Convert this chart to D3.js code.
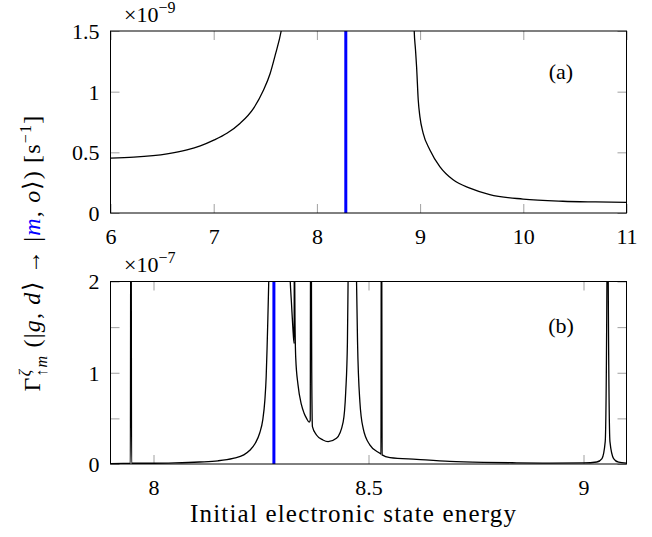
<!DOCTYPE html>
<html>
<head>
<meta charset="utf-8">
<script src="https://cdn.jsdelivr.net/npm/d3@7"></script>
<style>
  body { margin: 0; background: #fff; }
  svg { display: block; }
  text { font-family: "Liberation Serif", serif; fill: #000; }
</style>
</head>
<body>
<div id="chart"></div>
<script>
const SERIF = '"Liberation Serif", serif';

// panel (a) : deux branches de part et d'autre de la résonance (unités 1e-9 s^-1)
const aLeftX  = [6.0, 6.226, 6.548, 6.741, 6.870, 7.006, 7.128, 7.257, 7.386, 7.483, 7.547, 7.596, 7.654, 7.70];
const aLeftY  = [0.452, 0.460, 0.487, 0.520, 0.553, 0.602, 0.657, 0.740, 0.863, 1.013, 1.150, 1.301, 1.50, 1.75];
const aRightX = [8.935, 8.943, 8.955, 8.966, 8.982, 8.998, 9.030, 9.095, 9.191, 9.320, 9.482, 9.675, 9.997, 10.383, 10.70, 11.0];
const aRightY = [1.75, 1.50, 1.35, 1.205, 0.931, 0.794, 0.657, 0.520, 0.383, 0.274, 0.205, 0.152, 0.115, 0.097, 0.091, 0.087];

// panel (b) (unités 1e-7 s^-1) — les résonances étroites montent hors cadre
const bX = [7.90, 7.93, 7.9462, 7.9472, 7.9480, 7.9490, 8.00, 8.05, 8.107, 8.15, 8.185, 8.21, 8.224, 8.237, 8.247, 8.254, 8.259,
            8.262, 8.264, 8.266, 8.268, 8.271, 8.29, 8.314, 8.318, 8.321, 8.324, 8.327, 8.3276, 8.3283, 8.329, 8.3308,
            8.336, 8.344, 8.350, 8.356, 8.362, 8.3645, 8.3655, 8.3663, 8.3673, 8.368, 8.3696, 8.379, 8.394, 8.406, 8.4255, 8.441,
            8.447, 8.451, 8.4525, 8.462, 8.4722, 8.4745, 8.480, 8.4876, 8.503, 8.5264, 8.5290, 8.5298, 8.5306, 8.5316, 8.55,
            8.612, 8.689, 8.767, 8.845, 8.922, 9.0, 9.031, 9.043, 9.0505, 9.0545, 9.056, 9.0575, 9.0615, 9.070, 9.0815, 9.1];
const bY = [0.005, 0.006, 0.008, 3.0, 3.0, 0.008, 0.008, 0.012, 0.022, 0.035, 0.062, 0.10, 0.15, 0.23, 0.34, 0.48, 0.70,
            0.95, 1.25, 1.6, 2.0, 2.5, 6.0, 2.5, 2.0, 1.75, 1.5, 1.32, 2.6, 2.1, 1.6, 1.16,
            0.87, 0.65, 0.56, 0.50, 0.46, 0.48, 3.0, 3.0, 2.0, 1.0, 0.41, 0.318, 0.263, 0.245, 0.282, 0.46,
            0.79, 1.34, 2.0, 6.0, 2.0, 1.34, 0.68, 0.39, 0.21, 0.117, 0.108, 3.0, 3.0, 0.10, 0.07,
            0.051, 0.029, 0.018, 0.013, 0.010, 0.012, 0.022, 0.06, 0.245, 2.0, 4.0, 2.0, 0.245, 0.06, 0.02, 0.01];

const markerE = 8.28; // trait bleu

const aXTicks = [6, 7, 8, 9, 10, 11];
const aYTicks = [0, 0.5, 1, 1.5];
const bXTicks = [8, 8.5, 9];
const bYTicks = [0, 0.5, 1, 1.5, 2];
const bYLabels = [0, 1, 2];

const W = 652, H = 537;
const L = 110.5, R = 626.5;
const tickLen = 9;
const FS = 22;

const svg = d3.select("#chart").append("svg")
  .attr("width", W).attr("height", H)
  .attr("viewBox", [0, 0, W, H]);

function panel(id, top, bottom, xDom, yDom, xTicks, yTicks, yLabels, series, expo, tag) {
  const x = d3.scaleLinear().domain(xDom).range([L, R]);
  const y = d3.scaleLinear().domain(yDom).range([bottom, top]);
  const g = svg.append("g");

  g.append("clipPath").attr("id", id)
    .append("rect").attr("x", L).attr("y", top).attr("width", R - L).attr("height", bottom - top);

  // ticks vers l'intérieur sur les 4 côtés
  const styleTicks = a => a.attr("font-family", null)
    .call(s => s.select(".domain").remove())
    .call(s => s.selectAll(".tick line").attr("stroke", "#a0a0a0"))
    .call(s => s.selectAll("text").attr("font-size", FS).style("font-family", SERIF));

  g.append("g").attr("transform", `translate(0,${bottom})`)
    .call(d3.axisBottom(x).tickValues(xTicks).tickSize(-tickLen).tickPadding(15).tickFormat(d3.format("")))
    .call(styleTicks);
  g.append("g").attr("transform", `translate(0,${top})`)
    .call(d3.axisTop(x).tickValues(xTicks).tickSize(-tickLen).tickFormat(""))
    .call(styleTicks);
  g.append("g").attr("transform", `translate(${L},0)`)
    .call(d3.axisLeft(y).tickValues(yTicks).tickSize(-tickLen).tickPadding(11)
      .tickFormat(v => yLabels.includes(v) ? d3.format("")(v) : ""))
    .call(styleTicks)
    .call(s => s.selectAll("text").attr("dy", "0.34em"));
  g.append("g").attr("transform", `translate(${R},0)`)
    .call(d3.axisRight(y).tickValues(yTicks).tickSize(-tickLen).tickFormat(""))
    .call(styleTicks);

  const line = d3.line().x(d => x(d[0])).y(d => y(d[1])).curve(d3.curveMonotoneX);
  const plot = g.append("g").attr("clip-path", `url(#${id})`);
  series.forEach(s => {
    plot.append("path")
      .datum(d3.zip(s[0], s[1]))
      .attr("fill", "none").attr("stroke", "#000").attr("stroke-width", 1.3)
      .attr("d", line);
  });
  plot.append("line")
    .attr("x1", x(markerE)).attr("x2", x(markerE))
    .attr("y1", top).attr("y2", bottom)
    .attr("stroke", "#0000ff").attr("stroke-width", 3);

  g.append("rect").attr("x", L).attr("y", top).attr("width", R - L).attr("height", bottom - top)
    .attr("fill", "none").attr("stroke", "#000").attr("stroke-width", 1);

  const ex = g.append("text").attr("x", 124).attr("y", top - 9.5).attr("font-size", FS);
  ex.append("tspan").text("×10");
  ex.append("tspan").attr("font-size", 16).attr("dy", -9).text("−" + expo);

  g.append("text").attr("x", 561).attr("y", tag.y).attr("text-anchor", "middle")
    .attr("font-size", FS).text(tag.t);
}

panel("clipA", 31, 213, [6, 11], [0, 1.5], aXTicks, aYTicks, aYTicks,
  [[aLeftX, aLeftY], [aRightX, aRightY]], "9", { t: "(a)", y: 79 });
panel("clipB", 281.5, 464, [7.9, 9.1], [0, 2], bXTicks, bYTicks, bYLabels,
  [[bX, bY]], "7", { t: "(b)", y: 333 });

// titre axe x
svg.append("text").attr("x", 353).attr("y", 522).attr("text-anchor", "middle")
  .attr("font-size", 25).attr("textLength", 326).attr("lengthAdjust", "spacing")
  .text("Initial electronic state energy");

// titre axe y (rotation)
const yl = svg.append("text")
  .attr("transform", "translate(40,253) rotate(-90)")
  .attr("text-anchor", "middle").attr("font-size", 24).attr("letter-spacing", 1.2);
yl.append("tspan").text("Γ");
yl.append("tspan").attr("font-size", 16).attr("font-style", "italic").attr("dy", -10).text("ζ");
yl.append("tspan").attr("font-size", 16).attr("dx", -8).attr("dy", 17).text("↑");
yl.append("tspan").attr("font-size", 16).attr("font-style", "italic").text("m");
yl.append("tspan").attr("dy", -7).text(" (|");
yl.append("tspan").attr("font-style", "italic").text("g");
yl.append("tspan").text(", ");
yl.append("tspan").attr("font-style", "italic").text("d");
yl.append("tspan").text("⟩ → |");
yl.append("tspan").attr("font-style", "italic").style("fill", "#0000ff").text("m");
yl.append("tspan").text(", ");
yl.append("tspan").attr("font-style", "italic").text("o");
yl.append("tspan").text("⟩)  [s");
yl.append("tspan").attr("font-size", 16).attr("dy", -9).text("−1");
yl.append("tspan").attr("dy", 9).text("]");
</script>
</body>
</html>
